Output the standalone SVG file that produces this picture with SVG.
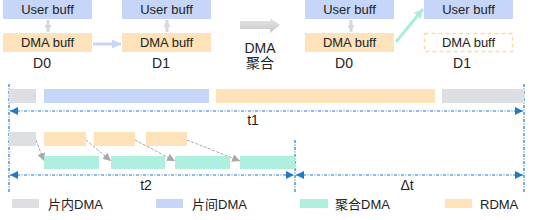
<svg xmlns="http://www.w3.org/2000/svg" width="534" height="220" viewBox="0 0 534 220">
<style>
text{font-family:"Liberation Sans","Noto Sans CJK SC",sans-serif;fill:#222}
.b{font-size:13px;text-anchor:middle}
.l{font-size:14px;text-anchor:middle}
.g{font-size:13px}
.ub{fill:#C6D6F8}
.db{fill:#FDE2BA}
.gr{fill:#DEDFE3}
.tl{fill:#AEEFE0}
.dl{stroke:#1F78C8;stroke-width:1.2;stroke-dasharray:3 1.5 1 1.5;fill:none}
.ga{stroke:#A8A8A8;stroke-width:1;stroke-dasharray:3 1.5;fill:none}
</style>
<defs>
<marker id="bh" viewBox="0 0 10 10" refX="10" refY="5" markerWidth="8" markerHeight="8" markerUnits="userSpaceOnUse" orient="auto-start-reverse"><path d="M0,0L10,5L0,10z" fill="#1F78C8"/></marker>
<marker id="gh" viewBox="0 0 10 10" refX="10" refY="5" markerWidth="8" markerHeight="8" markerUnits="userSpaceOnUse" orient="auto"><path d="M0,0L10,5L0,10z" fill="#A8A8A8"/></marker>
<marker id="lh" viewBox="0 0 10 10" refX="10" refY="5" markerWidth="9" markerHeight="9" markerUnits="userSpaceOnUse" orient="auto"><path d="M0,0L10,5L0,10z" fill="#C6D6F8"/></marker>
<marker id="th" viewBox="0 0 10 10" refX="10" refY="5" markerWidth="9" markerHeight="9" markerUnits="userSpaceOnUse" orient="auto"><path d="M0,0L10,5L0,10z" fill="#A8EEDC"/></marker>
<marker id="sh" viewBox="0 0 10 10" refX="10" refY="5" markerWidth="7" markerHeight="7" markerUnits="userSpaceOnUse" orient="auto"><path d="M0,0L10,5L0,10z" fill="#D8D8D8"/></marker>
<linearGradient id="ag" x1="0" y1="0" x2="0" y2="1"><stop offset="0" stop-color="#E6E6E6"/><stop offset="1" stop-color="#C8C8C8"/></linearGradient>
</defs>

<g id="d0-user"><rect class="ub" x="3" y="0" width="89" height="19"/><text class="b" x="47.5" y="14">User buff</text></g>
<g id="d0-dma"><rect class="db" x="3" y="33" width="89" height="19"/><text class="b" x="47.5" y="47">DMA buff</text></g>
<g id="d1-user"><rect class="ub" x="122" y="0" width="89" height="19"/><text class="b" x="166.5" y="14">User buff</text></g>
<g id="d1-dma"><rect class="db" x="122" y="33" width="89" height="19"/><text class="b" x="166.5" y="47">DMA buff</text></g>
<g id="d0b-user"><rect class="ub" x="305" y="0" width="89" height="19"/><text class="b" x="349.5" y="14">User buff</text></g>
<g id="d0b-dma"><rect class="db" x="305" y="33" width="89" height="19"/><text class="b" x="349.5" y="47">DMA buff</text></g>
<g id="d1b-user"><rect class="ub" x="424" y="0" width="89" height="19"/><text class="b" x="468.5" y="14">User buff</text></g>
<g id="d1b-dma"><rect x="424.5" y="33.5" width="88" height="18" fill="none" stroke="#FDD9A8" stroke-width="1.5" stroke-dasharray="4 3"/><text class="b" x="468.5" y="47">DMA buff</text></g>

<g id="labels">
<text class="l" x="42" y="68">D0</text>
<text class="l" x="161" y="68">D1</text>
<text class="l" x="344" y="68">D0</text>
<text class="l" x="462" y="68">D1</text>
<text class="l" x="260" y="53">DMA</text>
<text class="l" x="260" y="68">聚合</text>
</g>

<g id="big-arrow"><path d="M240,21H270V18L280,25L270,33V29H240z" fill="url(#ag)"/></g>

<g id="connectors">
<line x1="48" y1="20" x2="48" y2="32" stroke="#D8D8D8" stroke-width="3" marker-end="url(#sh)"/>
<line x1="167" y1="32" x2="167" y2="20" stroke="#D8D8D8" stroke-width="3" marker-end="url(#sh)"/>
<line x1="351" y1="20" x2="351" y2="32" stroke="#D8D8D8" stroke-width="3" marker-end="url(#sh)"/>
<line x1="93" y1="44" x2="121" y2="44" stroke="#C6D6F8" stroke-width="3" marker-end="url(#lh)"/>
<line x1="396" y1="42" x2="423" y2="9" stroke="#A8EEDC" stroke-width="3" marker-end="url(#th)"/>
<line class="ga" x1="36" y1="140" x2="44" y2="161" marker-end="url(#gh)"/>
<line class="ga" x1="86" y1="140" x2="111" y2="161" marker-end="url(#gh)"/>
<line class="ga" x1="135" y1="140" x2="175" y2="161" marker-end="url(#gh)"/>
<line class="ga" x1="187" y1="140" x2="240" y2="161" marker-end="url(#gh)"/>
</g>

<g id="timeline">
<line class="dl" x1="9" y1="84" x2="9" y2="193"/>
<line class="dl" x1="524" y1="84" x2="524" y2="193"/>
<line class="dl" x1="295" y1="140" x2="295" y2="193"/>
<rect class="gr" x="9" y="89" width="27" height="14"/>
<rect class="ub" x="44" y="89" width="165" height="14"/>
<rect class="db" x="216" y="89" width="219" height="14"/>
<rect class="gr" x="442" y="89" width="82" height="14"/>
<line class="dl" x1="10" y1="111" x2="523" y2="111" marker-start="url(#bh)" marker-end="url(#bh)"/>
<text class="l" x="253" y="125">t1</text>
<rect class="gr" x="9" y="132" width="27" height="14"/>
<rect class="db" x="44" y="132" width="42" height="14"/>
<rect class="db" x="94" y="132" width="41" height="14"/>
<rect class="db" x="146" y="132" width="41" height="14"/>
<rect class="tl" x="44" y="156" width="55" height="13"/>
<rect class="tl" x="111" y="156" width="54" height="13"/>
<rect class="tl" x="175" y="156" width="55" height="13"/>
<rect class="tl" x="240" y="156" width="55" height="13"/>
<line class="dl" x1="10" y1="175" x2="294" y2="175" marker-start="url(#bh)" marker-end="url(#bh)"/>
<line class="dl" x1="296" y1="175" x2="523" y2="175" marker-start="url(#bh)" marker-end="url(#bh)"/>
<text class="l" x="146" y="190">t2</text>
<text class="l" x="407" y="190">Δt</text>
</g>

<g id="legend">
<rect class="gr" x="12" y="199" width="27" height="9"/><text class="g" x="48" y="209">片内DMA</text>
<rect class="ub" x="156" y="199" width="27" height="9"/><text class="g" x="192" y="209">片间DMA</text>
<rect class="tl" x="300" y="199" width="28" height="9"/><text class="g" x="335" y="209">聚合DMA</text>
<rect class="db" x="445" y="199" width="27" height="9"/><text class="g" x="480" y="209">RDMA</text>
</g>
</svg>
